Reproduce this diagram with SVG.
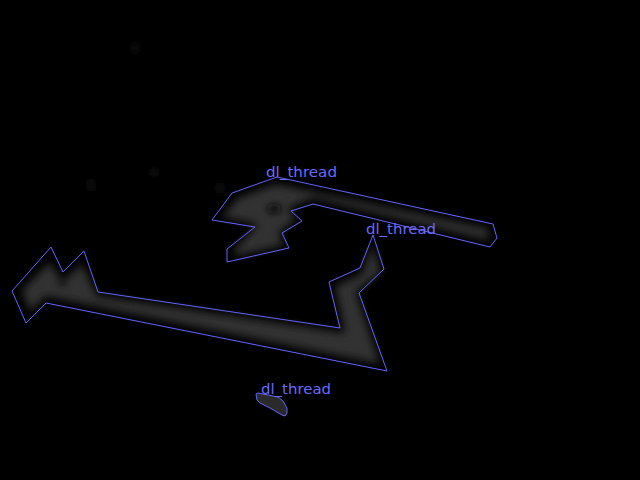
<svg xmlns="http://www.w3.org/2000/svg" width="640" height="480" viewBox="0 0 640 480">
<defs>
<filter id="blur" x="-20%" y="-20%" width="140%" height="140%"><feGaussianBlur stdDeviation="4.5"/></filter>
<filter id="soft" x="-100%" y="-100%" width="300%" height="300%"><feGaussianBlur stdDeviation="3"/></filter>
<style>
.outline{fill:none;stroke:#6464ff;stroke-width:1;stroke-linejoin:miter}
.blob{fill:#333333;filter:url(#blur)}
.hole{fill:#0c0c0c;filter:url(#soft)}
.lbl{font-family:"DejaVu Sans","Liberation Sans",sans-serif;font-size:14px;fill:#6a6aff}
.spot{fill:#1c1c1c;filter:url(#soft)}
</style>
</defs>
<rect width="640" height="480" fill="#000"/>
<g id="background-specks">
<ellipse class="spot" cx="91" cy="185" rx="2" ry="7"/>
<ellipse class="spot" cx="154" cy="172" rx="5" ry="2"/>
<ellipse class="spot" cx="220" cy="188" rx="4" ry="3"/>
<ellipse class="spot" cx="135" cy="48" rx="4" ry="5" opacity="0.6"/>
<ellipse class="spot" cx="325" cy="425" rx="2" ry="2" opacity="0.5"/>
</g>
<g id="node-top">
<polygon class="blob" points="276,184 238,198 222,217 258,224 234,250 236,256 284,245 279,232 296,220 288,208 313,198 487,240 490,232 486,228"/>
<ellipse class="hole" cx="274" cy="209" rx="7" ry="5"/>
<polygon class="outline" points="277,177 232,193 212,220 255,227 227,249 227,262 289,248 282,233 302,221 291,211 313,204 490,247 497,238 493,224"/>
<text class="lbl" x="266" y="177" textLength="71" lengthAdjust="spacingAndGlyphs">dl_thread</text>
</g>
<g id="node-big">
<polygon class="blob" points="372,244 381,272 356,292 380,364 46,296 30,312 22,290 50,262 62,282 82,264 97,296 345,333 335,286 362,274"/>
<ellipse class="hole" cx="62" cy="284" rx="5" ry="3" opacity="0.5"/>
<polygon class="outline" points="373,235 384,269 359,293 387,371 46,303 26,323 12,291 51,247 63,272 84,251 98,292 340,328 329,282 360,268"/>
<text class="lbl" x="366" y="234" textLength="70" lengthAdjust="spacingAndGlyphs">dl_thread</text>
</g>
<g id="node-small">
<polygon points="256,394 258,393 278,397 283,401 287,408 287,413 285,416 282,415 270,408 260,403 257,400" fill="#2a2a2a" stroke="#6464ff" stroke-width="1"/>
<text class="lbl" x="261" y="394" textLength="70" lengthAdjust="spacingAndGlyphs">dl_thread</text>
</g>
<g id="connectors"/>
</svg>
